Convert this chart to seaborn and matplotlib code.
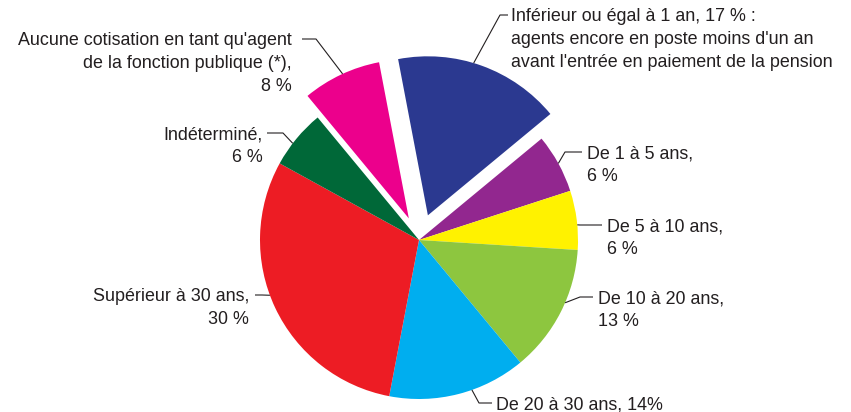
import numpy as np
import matplotlib
matplotlib.use("Agg")
import matplotlib.pyplot as plt
import seaborn as sns

sns.set_style("white")
plt.rcParams['font.family'] = ['Liberation Sans', 'DejaVu Sans']

# data: durée de cotisation, parts en %
categories = [
    "Inférieur ou égal à 1 an",
    "De 1 à 5 ans",
    "De 5 à 10 ans",
    "De 10 à 20 ans",
    "De 20 à 30 ans",
    "Supérieur à 30 ans",
    "Indéterminé",
    "Aucune cotisation",
]
shares = [17, 6, 6, 13, 14, 30, 6, 8]
label_texts = [
    "Inférieur ou égal à 1 an, 17 % :\nagents encore en poste moins d'un an\navant l'entrée en paiement de la pension",
    "De 1 à 5 ans,\n6 %",
    "De 5 à 10 ans,\n6 %",
    "De 10 à 20 ans,\n13 %",
    "De 20 à 30 ans, 14%",
    "Supérieur à 30 ans,\n30 %",
    "Indéterminé,\n6 %",
    "Aucune cotisation en tant qu'agent\nde la fonction publique (*),\n8 %",
]
colors = ["#2B3990", "#92278F", "#FFF200", "#8DC63F",
          "#00AEEF", "#ED1C24", "#006838", "#EC008C"]
explode_frac = [0.165, 0, 0, 0, 0, 0, 0, 0.15]

W, H = 851, 412
cx, cy, R = 419, H - 240, 159
txt_col = "#231F20"
fs = 12.9

# leader layout (pixel coords from top): anchor fraction in wedge, elbow, line end, text pos, ha
layout = [
    (0.55, (500, 15), (508, 15), (511, 15), "left"),
    (0.50, (565, 152), (582, 152), (587, 152), "left"),
    (0.42, (580, 225), (602, 225), (607, 225), "left"),
    (0.58, (580, 297), (593, 297), (598, 297), "left"),
    (0.60, (479, 403), (492, 403), (496, 403), "left"),
    (0.455, (262, 295), (255, 295), (249, 295), "right"),
    (0.60, (283, 133), (267, 133), (263, 133), "right"),
    (0.48, (316, 39), (302, 39), (292, 39), "right"),
]

fig = plt.figure(figsize=(W / 100, H / 100), dpi=100)
ax = fig.add_axes([0, 0, 1, 1])
wedges, _ = ax.pie(shares, colors=colors, explode=[e * R for e in explode_frac],
                   startangle=100.8, counterclock=False, radius=R, center=(cx, cy),
                   wedgeprops=dict(linewidth=0))

for w, txt, (f, elbow, end, tpos, ha) in zip(wedges, label_texts, layout):
    ang = np.deg2rad(w.theta1 + f * (w.theta2 - w.theta1))
    ax0 = w.center[0] + w.r * np.cos(ang)
    ay0 = w.center[1] + w.r * np.sin(ang)
    xs = [ax0, elbow[0], end[0]]
    ys = [ay0, H - elbow[1], H - end[1]]
    ax.plot(xs, ys, color=txt_col, lw=0.8, solid_capstyle="butt")
    ax.text(tpos[0], H - (tpos[1] - 7), txt, ha=ha, va="top",
            multialignment=ha, fontsize=fs, color=txt_col, linespacing=1.45)

ax.set_xlim(0, W)
ax.set_ylim(0, H)
ax.set_aspect("equal")
ax.axis("off")

fig.savefig("out.png", dpi=100)
